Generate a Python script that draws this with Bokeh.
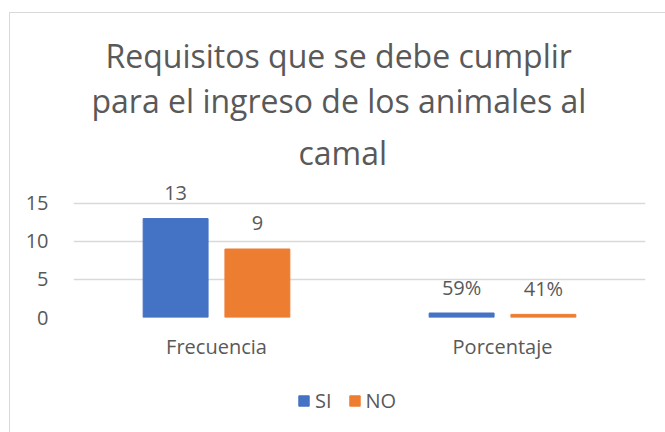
from bokeh.plotting import figure
from bokeh.layouts import column
from bokeh.models import FactorRange, ColumnDataSource, Legend, LegendItem, Title, FixedTicker, Range1d
from bokeh.transform import dodge
from bokeh.core.properties import value
from bokeh.embed import file_html
from bokeh.resources import INLINE

categories = ["Frecuencia", "Porcentaje"]
series = ["SI", "NO"]
si_values = [13, 0.59]
no_values = [9, 0.41]
si_labels = ["13", "59%"]
no_labels = ["9", "41%"]
y_ticks = [0, 5, 10, 15]
title_lines = ["Requisitos que se debe cumplir", "para el ingreso de los animales al", "camal"]

FONT = "Open Sans"
TXT = "#595959"
BLUE = "#4472C4"
ORANGE = "#ED7D31"

src = ColumnDataSource(dict(cat=categories, si=si_values, no=no_values,
                            si_lab=si_labels, no_lab=no_labels))

p = figure(width=655, height=360, x_range=FactorRange(*categories), y_range=(0, 18),
           output_backend="svg", toolbar_location=None,
           min_border_left=63, min_border_right=20, min_border_top=167, min_border_bottom=56)
p.outline_line_color = None

p.vbar(x=dodge("cat", -0.143, range=p.x_range), top="si", width=0.227, source=src,
       fill_color=BLUE, line_color=BLUE)
p.vbar(x=dodge("cat", 0.143, range=p.x_range), top="no", width=0.227, source=src,
       fill_color=ORANGE, line_color=ORANGE)
p.text(x=dodge("cat", -0.143, range=p.x_range), y="si", text="si_lab", source=src,
       text_align="center", text_baseline="alphabetic", y_offset=-26,
       text_font=value(FONT), text_font_size="20px", text_color=TXT)
p.text(x=dodge("cat", 0.143, range=p.x_range), y="no", text="no_lab", source=src,
       text_align="center", text_baseline="alphabetic", y_offset=-26,
       text_font=value(FONT), text_font_size="20px", text_color=TXT)

p.yaxis.ticker = FixedTicker(ticks=y_ticks)
p.ygrid.ticker = FixedTicker(ticks=y_ticks)
p.ygrid.grid_line_color = "#d9d9d9"
p.ygrid.grid_line_width = 1.3
p.xgrid.grid_line_color = None
for ax in (p.xaxis, p.yaxis):
    ax.axis_line_color = None
    ax.major_tick_line_color = None
    ax.minor_tick_line_color = None
    ax.major_tick_out = 0
    ax.major_tick_in = 0
    ax.major_label_text_font = FONT
    ax.major_label_text_font_size = "20px"
    ax.major_label_text_color = TXT
p.yaxis.major_label_standoff = 25
p.xaxis.major_label_standoff = 15

# title lines, left-aligned with offsets so that each line is centred on the chart area
offsets = [32, 18, 225]
standoffs = [0, 0, 14]
for line, off, so in reversed(list(zip(title_lines, offsets, standoffs))):
    t = Title(text=line, align="left", text_font=FONT, text_font_size="32px",
              text_font_style="normal", text_color=TXT, offset=off, standoff=so)
    p.add_layout(t, "above")

# legend strip (its sample renderers hold one point outside the visible range)
pl = figure(width=655, height=59, x_range=Range1d(0, 1), y_range=Range1d(0, 1),
            output_backend="svg", toolbar_location=None, x_axis_type=None, y_axis_type=None,
            min_border=0)
pl.outline_line_color = None
pl.grid.visible = False
d1 = pl.vbar(x=[-5], top=[-5], width=0.1, fill_color=BLUE, line_color=BLUE)
d2 = pl.vbar(x=[-5], top=[-5], width=0.1, fill_color=ORANGE, line_color=ORANGE)
legend = Legend(items=[LegendItem(label=series[0], renderers=[d1]), LegendItem(label=series[1], renderers=[d2])],
                orientation="horizontal", location=(224, 18),
                label_text_font=FONT, label_text_font_size="20px", label_text_color=TXT,
                glyph_width=13, glyph_height=13, label_standoff=5, spacing=16, label_width=0,
                border_line_color=None, background_fill_alpha=0, padding=0, margin=0)
pl.add_layout(legend, "center")

layout = column(p, pl, spacing=0)
layout.styles = {"margin-left": "9px", "margin-top": "12px",
                 "border-left": "1px solid #d9d9d9", "border-top": "1px solid #d9d9d9"}

open("out.html", "w").write(file_html(layout, INLINE))
